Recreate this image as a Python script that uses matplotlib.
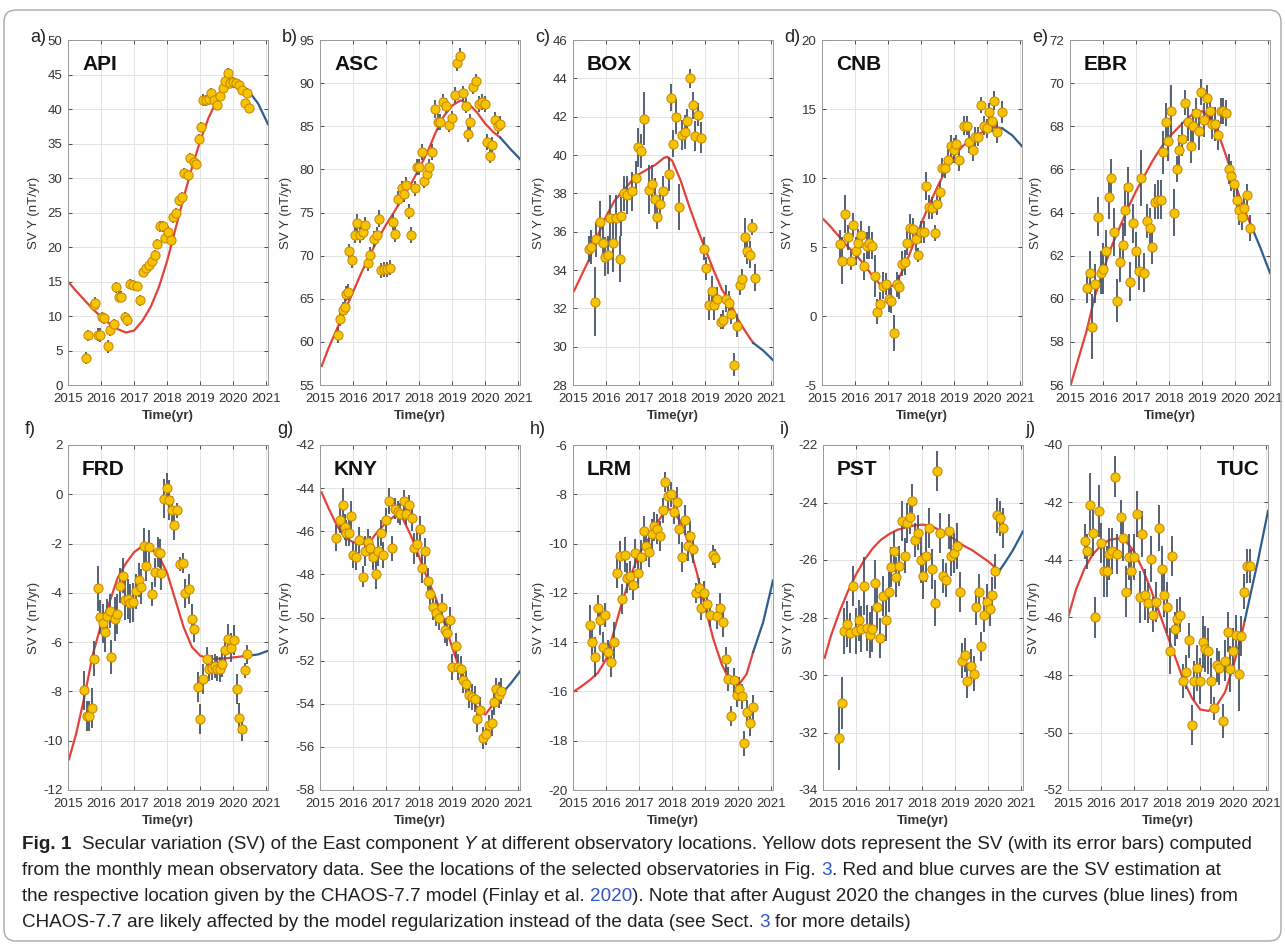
import numpy as np
import matplotlib
matplotlib.use('Agg')
import matplotlib.pyplot as plt
from matplotlib import font_manager
from matplotlib.patches import FancyBboxPatch

plt.rcParams['font.family'] = ['Liberation Sans', 'DejaVu Sans']
plt.rcParams['axes.unicode_minus'] = False

# ---------------- data ----------------
# a) API
api_t = [2015.55, 2015.62, 2015.78, 2015.83, 2015.9, 2015.96, 2016.02, 2016.1, 2016.2, 2016.28,
         2016.38, 2016.46, 2016.53, 2016.6, 2016.71, 2016.78, 2016.88, 2016.98, 2017.08, 2017.18,
         2017.27, 2017.35, 2017.45, 2017.54, 2017.62, 2017.7, 2017.79, 2017.87, 2017.94, 2018.04,
         2018.12, 2018.19, 2018.27, 2018.35, 2018.44, 2018.52, 2018.62, 2018.7, 2018.8, 2018.88,
         2018.95, 2019.02, 2019.08, 2019.18, 2019.26, 2019.33, 2019.43, 2019.51, 2019.61, 2019.68,
         2019.76, 2019.83, 2019.91, 2020.0, 2020.08, 2020.17, 2020.27, 2020.34, 2020.42, 2020.49]
api_sv = [3.9, 7.2, 11.6, 11.9, 7.3, 7.2, 9.8, 9.7, 5.6, 8.0,
          8.8, 14.2, 12.8, 12.8, 9.8, 9.4, 14.7, 14.5, 14.3, 12.3,
          16.4, 16.9, 17.4, 17.9, 18.8, 20.5, 23.0, 23.0, 21.3, 22.2,
          21.0, 24.3, 24.9, 26.8, 27.3, 30.7, 30.4, 32.9, 32.3, 32.1,
          35.7, 37.4, 41.3, 41.3, 41.5, 42.3, 41.3, 40.6, 41.9, 43.0,
          44.1, 45.2, 43.7, 43.9, 43.7, 43.5, 42.8, 40.8, 42.3, 40.1]
api_err = [0.9, 0.8, 0.8, 0.8, 0.9, 1.0, 0.8, 0.8, 0.9, 0.9,
           0.8, 0.8, 0.8, 0.8, 0.8, 0.8, 0.7, 0.7, 0.7, 0.8,
           0.7, 0.7, 0.7, 0.7, 0.7, 0.7, 0.8, 0.8, 0.7, 0.8,
           0.8, 0.8, 0.8, 0.8, 0.7, 0.7, 0.8, 0.7, 0.8, 0.7,
           0.7, 0.7, 0.9, 0.8, 0.8, 0.8, 0.7, 0.8, 0.8, 0.8,
           0.8, 0.8, 0.7, 0.7, 0.7, 0.7, 0.7, 0.7, 0.7, 0.7]
api_mt = [2015.0, 2015.25, 2015.5, 2015.75, 2016.0, 2016.25, 2016.5, 2016.75, 2017.0, 2017.25,
          2017.5, 2017.75, 2018.0, 2018.25, 2018.5, 2018.75, 2019.0, 2019.25, 2019.5, 2019.75,
          2020.0, 2020.25, 2020.45, 2020.75, 2021.05]
api_mod = [15.0, 13.6, 12.3, 11.0, 9.9, 8.9, 8.1, 7.6, 7.9, 9.3,
           11.3, 14.2, 18.0, 22.6, 27.2, 31.5, 35.4, 38.7, 41.2, 42.8,
           43.5, 43.4, 42.7, 40.8, 37.8]

# b) ASC
asc_t = [2015.55, 2015.62, 2015.7, 2015.75, 2015.8, 2015.85, 2015.88, 2015.97,
         2016.05, 2016.12, 2016.2, 2016.3, 2016.37, 2016.44, 2016.52, 2016.62, 2016.71, 2016.79, 2016.86, 2016.94,
         2017.02, 2017.12, 2017.2, 2017.27, 2017.37, 2017.47, 2017.54, 2017.6, 2017.68, 2017.76, 2017.86, 2017.94,
         2018.0, 2018.08, 2018.16, 2018.23, 2018.31, 2018.4, 2018.48, 2018.56, 2018.63, 2018.71, 2018.8, 2018.9, 2018.98,
         2019.08, 2019.13, 2019.23, 2019.33, 2019.41, 2019.48, 2019.55, 2019.63, 2019.73, 2019.81, 2019.9, 2019.98,
         2020.05, 2020.13, 2020.21, 2020.28, 2020.38, 2020.46]
asc_sv = [60.8, 62.7, 63.7, 64.1, 65.6, 65.8, 70.5, 69.5,
          72.4, 73.8, 72.4, 72.7, 73.6, 69.1, 70.1, 71.9, 72.4, 74.3, 68.3, 68.4,
          68.4, 68.6, 73.9, 72.5, 76.6, 77.8, 77.2, 78.2, 75.1, 72.4, 77.8, 80.3,
          80.3, 82.0, 78.7, 79.5, 80.3, 82.0, 87.0, 85.5, 85.5, 87.8, 87.4, 85.2, 85.9,
          88.6, 92.3, 93.2, 88.8, 87.4, 84.1, 85.5, 89.6, 90.2, 87.6, 87.8, 87.6,
          83.2, 81.6, 82.8, 85.7, 85.0, 85.3]
asc_err = [0.9, 0.9, 0.9, 0.9, 0.9, 0.9, 0.9, 0.9,
           0.9, 1.0, 0.9, 0.9, 0.9, 0.9, 0.9, 0.9, 0.9, 1.0, 0.9, 0.9,
           0.9, 0.9, 0.9, 0.9, 0.9, 0.9, 1.0, 0.9, 0.9, 0.9, 0.9, 0.9,
           0.9, 0.9, 0.9, 0.9, 0.9, 0.9, 1.0, 0.9, 0.9, 0.9, 0.9, 0.9, 0.9,
           0.9, 0.9, 0.9, 0.9, 0.9, 0.9, 0.9, 0.9, 0.9, 0.9, 0.9, 0.9,
           0.9, 0.9, 0.9, 0.9, 0.9, 0.9]
asc_mt = [2015.05, 2015.25, 2015.5, 2015.75, 2016.0, 2016.25, 2016.5, 2016.75, 2017.0, 2017.25,
          2017.5, 2017.75, 2018.0, 2018.25, 2018.5, 2018.75, 2019.0, 2019.25, 2019.5, 2019.75,
          2020.0, 2020.25, 2020.45, 2020.75, 2021.05]
asc_mod = [57.2, 59.2, 61.4, 63.6, 65.8, 68.0, 70.0, 71.9, 73.6, 75.1,
           76.7, 78.3, 80.1, 82.0, 84.3, 86.2, 87.4, 88.0, 87.6, 86.6,
           85.3, 84.3, 83.7, 82.4, 81.2]

# c) BOX
box_t = [2015.48, 2015.55, 2015.66, 2015.71, 2015.81, 2015.91, 2015.96,
         2016.06, 2016.13, 2016.21, 2016.29, 2016.41, 2016.46, 2016.54, 2016.63, 2016.79, 2016.9, 2016.97,
         2017.05, 2017.14, 2017.29, 2017.39, 2017.47, 2017.55, 2017.64, 2017.72, 2017.89, 2017.97,
         2018.04, 2018.12, 2018.2, 2018.3, 2018.38, 2018.46, 2018.53, 2018.63, 2018.7, 2018.78, 2018.88, 2018.96,
         2019.03, 2019.11, 2019.2, 2019.28, 2019.36, 2019.47, 2019.53, 2019.62, 2019.71, 2019.79, 2019.87, 2019.96,
         2020.04, 2020.12, 2020.19, 2020.26, 2020.34, 2020.42, 2020.52]
box_sv = [35.1, 35.2, 32.35, 35.6, 36.5, 35.4, 34.7,
          34.8, 36.7, 35.4, 36.7, 34.55, 36.8, 38.0, 37.9, 38.1, 38.8, 40.4,
          40.2, 41.9, 38.2, 38.5, 37.7, 36.75, 37.45, 38.1, 39.0, 43.0,
          40.6, 42.0, 37.3, 41.05, 41.2, 41.8, 44.0, 42.6, 41.0, 42.1, 40.9, 35.1,
          34.1, 32.2, 32.9, 32.2, 32.5, 31.3, 31.4, 32.5, 32.3, 31.7, 29.05, 31.1,
          33.2, 33.55, 35.7, 35.0, 34.8, 36.25, 33.6]
box_err = [0.7, 0.9, 1.8, 0.9, 1.1, 1.0, 1.0,
           1.0, 1.2, 1.5, 1.2, 1.2, 1.0, 0.9, 1.0, 1.0, 0.9, 1.0,
           0.9, 1.4, 1.3, 1.0, 1.1, 0.6, 0.7, 0.8, 0.9, 0.7,
           0.7, 0.9, 1.2, 0.8, 0.9, 0.6, 0.5, 0.7, 0.8, 0.6, 0.8, 0.6,
           0.6, 0.8, 0.8, 0.8, 0.6, 0.4, 0.5, 0.7, 0.6, 0.5, 0.6, 0.6,
           0.5, 0.5, 1.0, 0.7, 0.7, 0.4, 0.7]
box_mt = [2015.03, 2015.25, 2015.5, 2015.75, 2016.0, 2016.25, 2016.5, 2016.75, 2017.0, 2017.25,
          2017.5, 2017.75, 2017.85, 2018.0, 2018.25, 2018.5, 2018.75, 2019.0, 2019.25, 2019.5,
          2019.75, 2020.0, 2020.25, 2020.45, 2020.75, 2021.05]
box_mod = [32.9, 33.7, 34.6, 35.8, 36.8, 37.6, 38.1, 38.6, 39.0, 39.25,
           39.5, 39.85, 39.9, 39.7, 38.7, 37.4, 36.2, 35.1, 34.0, 33.0,
           32.3, 31.4, 30.7, 30.2, 29.8, 29.3]

# d) CNB
cnb_t = [2015.53, 2015.6, 2015.7, 2015.78, 2015.88, 2015.95,
         2016.03, 2016.1, 2016.18, 2016.28, 2016.35, 2016.43, 2016.52, 2016.6, 2016.67, 2016.75, 2016.85, 2016.94,
         2017.03, 2017.1, 2017.18, 2017.28, 2017.33, 2017.41, 2017.51, 2017.58, 2017.66, 2017.74, 2017.83, 2017.91, 2017.99,
         2018.09, 2018.16, 2018.23, 2018.33, 2018.41, 2018.49, 2018.57, 2018.64, 2018.73, 2018.81, 2018.91, 2018.98,
         2019.06, 2019.14, 2019.29, 2019.38, 2019.46, 2019.56, 2019.64, 2019.73, 2019.81, 2019.89, 2019.98,
         2020.06, 2020.13, 2020.21, 2020.3, 2020.45]
cnb_sv = [5.2, 4.0, 7.4, 5.7, 4.0, 6.6,
          4.7, 5.3, 5.9, 3.6, 5.1, 5.3, 5.1, 2.9, 0.3, 0.85, 2.2, 2.3,
          1.2, 1.1, -1.2, 2.3, 2.1, 3.8, 3.9, 5.3, 6.4, 6.3, 5.6, 4.4, 6.1,
          6.1, 9.4, 7.9, 7.8, 6.0, 8.1, 9.0, 10.75, 10.7, 11.3, 12.3, 12.0,
          12.45, 11.3, 13.8, 13.8, 12.6, 12.0, 13.0, 13.0, 15.3, 13.8, 13.6,
          14.8, 14.1, 15.6, 13.35, 14.8]
cnb_err = [1.0, 1.7, 1.4, 0.9, 0.7, 0.9,
           1.0, 1.0, 1.0, 1.0, 1.0, 1.2, 1.0, 1.5, 0.9, 0.9, 1.0, 0.8,
           0.9, 0.9, 1.3, 0.9, 0.9, 0.9, 0.9, 0.9, 1.0, 0.8, 0.9, 0.5, 0.8,
           0.8, 1.0, 0.9, 0.8, 0.6, 0.8, 0.8, 0.7, 0.7, 0.8, 0.8, 0.9,
           0.7, 0.8, 0.7, 0.7, 0.8, 0.8, 0.7, 0.7, 0.6, 0.7, 0.7,
           0.6, 0.8, 0.7, 0.8, 0.8]
cnb_mt = [2015.05, 2015.25, 2015.5, 2015.75, 2016.0, 2016.25, 2016.5, 2016.75, 2017.0, 2017.25,
          2017.5, 2017.75, 2018.0, 2018.25, 2018.5, 2018.75, 2019.0, 2019.25, 2019.5, 2019.75,
          2020.0, 2020.25, 2020.45, 2020.75, 2021.05]
cnb_mod = [7.0, 6.5, 5.8, 5.1, 4.5, 3.8, 3.0, 2.3, 2.0, 2.4,
           3.6, 5.1, 6.7, 8.1, 9.4, 10.6, 11.6, 12.3, 12.8, 13.2,
           13.5, 13.7, 13.6, 13.1, 12.3]

# e) EBR
ebr_t = [2015.5, 2015.6, 2015.68, 2015.76, 2015.85, 2015.93,
         2016.01, 2016.08, 2016.18, 2016.25, 2016.33, 2016.43, 2016.51, 2016.6, 2016.65, 2016.75, 2016.83, 2016.92,
         2017.01, 2017.09, 2017.16, 2017.24, 2017.32, 2017.41, 2017.49, 2017.57, 2017.66, 2017.74, 2017.82, 2017.89, 2017.97,
         2018.06, 2018.15, 2018.23, 2018.31, 2018.4, 2018.48, 2018.57, 2018.65, 2018.73, 2018.82, 2018.9, 2018.97,
         2019.05, 2019.13, 2019.22, 2019.3, 2019.38, 2019.47, 2019.56, 2019.64, 2019.73, 2019.81, 2019.88, 2019.96,
         2020.04, 2020.11, 2020.19, 2020.26, 2020.34, 2020.44]
ebr_sv = [60.5, 61.2, 58.7, 60.7, 63.8, 61.2,
          61.4, 62.2, 64.7, 65.6, 63.1, 59.9, 61.7, 62.5, 64.1, 65.2, 60.8, 63.5,
          62.2, 61.3, 65.6, 61.2, 63.6, 63.3, 62.4, 64.5, 64.6, 64.6, 66.8, 68.2, 67.3,
          68.7, 64.0, 66.0, 66.9, 67.4, 69.1, 68.2, 67.1, 68.0, 68.6, 67.8, 69.6,
          68.3, 69.3, 68.7, 68.1, 68.1, 67.6, 68.7, 68.7, 68.6, 66.0, 65.7, 65.3,
          64.6, 64.1, 63.8, 64.2, 64.8, 63.3]
ebr_err = [0.7, 1.0, 1.5, 0.9, 0.9, 1.0,
           1.2, 1.0, 1.0, 0.9, 1.1, 1.0, 0.9, 1.0, 1.2, 0.9, 0.9, 0.9,
           0.9, 0.9, 1.3, 0.9, 0.8, 0.9, 0.8, 0.8, 0.9, 0.9, 1.0, 0.9, 0.9,
           1.2, 1.1, 0.6, 0.7, 0.8, 0.6, 0.9, 0.8, 0.8, 0.7, 0.9, 0.6,
           0.8, 0.6, 0.7, 0.7, 0.8, 0.7, 0.6, 0.6, 0.6, 0.7, 0.7, 0.6,
           0.6, 0.7, 0.6, 0.6, 0.5, 0.6]
ebr_mt = [2015.02, 2015.25, 2015.5, 2015.75, 2016.0, 2016.25, 2016.5, 2016.75, 2017.0, 2017.25,
          2017.5, 2017.75, 2018.0, 2018.25, 2018.5, 2018.75, 2019.0, 2019.25, 2019.5, 2019.75,
          2020.0, 2020.25, 2020.45, 2020.75, 2021.05]
ebr_mod = [56.0, 57.2, 58.5, 60.1, 61.3, 62.4, 63.3, 64.2, 65.0, 65.7,
           66.4, 67.0, 67.5, 67.9, 68.3, 68.6, 68.7, 68.4, 67.6, 66.5,
           65.3, 64.2, 63.5, 62.4, 61.2]

# f) FRD
frd_t = [2015.48, 2015.58, 2015.65, 2015.73, 2015.8, 2015.9, 2015.97,
         2016.06, 2016.11, 2016.19, 2016.28, 2016.31, 2016.41, 2016.48, 2016.56, 2016.66, 2016.73, 2016.81, 2016.89, 2016.98,
         2017.06, 2017.14, 2017.21, 2017.29, 2017.37, 2017.46, 2017.54, 2017.63, 2017.71, 2017.78, 2017.81, 2017.91, 2017.98,
         2018.06, 2018.15, 2018.22, 2018.3, 2018.39, 2018.47, 2018.55, 2018.65, 2018.74, 2018.82, 2018.93,
         2019.0, 2019.09, 2019.2, 2019.27, 2019.35, 2019.45, 2019.52, 2019.6, 2019.67, 2019.75, 2019.84, 2019.92,
         2020.02, 2020.1, 2020.18, 2020.26, 2020.35, 2020.41]
frd_sv = [-7.96, -9.0, -9.0, -8.67, -6.67, -3.82, -4.97,
          -5.24, -5.6, -4.93, -4.73, -6.6, -5.07, -4.86, -3.71, -3.3, -4.29, -4.25, -4.43, -4.39,
          -3.94, -3.48, -3.75, -2.08, -2.92, -2.15, -4.05, -3.17, -2.35, -2.4, -3.2, -0.18, 0.26,
          -0.24, -0.65, -1.24, -0.65, -2.83, -2.8, -4.02, -3.85, -5.07, -5.48, -7.83,
          -9.12, -7.49, -6.7, -7.08, -7.04, -6.97, -7.07, -7.1, -6.9, -6.33, -5.88, -6.22,
          -5.92, -7.9, -9.08, -9.52, -7.15, -6.5]
frd_err = [0.8, 0.6, 0.6, 0.8, 0.7, 0.9, 0.7,
           0.8, 0.8, 0.7, 0.7, 0.7, 0.9, 0.8, 0.7, 0.7, 0.8, 0.8, 0.8, 0.8,
           0.7, 0.7, 0.7, 0.7, 0.6, 0.7, 0.5, 0.6, 0.6, 0.6, 0.7, 0.8, 0.6,
           0.8, 0.6, 0.6, 0.3, 0.3, 0.4, 0.6, 0.6, 0.6, 0.5, 0.6,
           0.6, 0.6, 0.5, 0.5, 0.5, 0.5, 0.5, 0.5, 0.5, 0.5, 0.6, 0.6,
           0.6, 0.6, 0.6, 0.5, 0.3, 0.4]
frd_mt = [2015.03, 2015.25, 2015.5, 2015.75, 2016.0, 2016.25, 2016.5, 2016.75, 2017.0, 2017.25,
          2017.5, 2017.75, 2018.0, 2018.25, 2018.5, 2018.75, 2019.0, 2019.25, 2019.5, 2019.75,
          2020.0, 2020.25, 2020.45, 2020.75, 2021.05]
frd_mod = [-10.75, -9.7, -8.2, -6.5, -5.3, -4.4, -3.4, -2.8, -2.35, -2.1,
           -2.2, -2.5, -3.2, -4.3, -5.4, -6.2, -6.55, -6.67, -6.68, -6.66,
           -6.62, -6.58, -6.55, -6.5, -6.35]

# g) KNY
kny_t = [2015.49, 2015.59, 2015.69, 2015.76, 2015.8, 2015.88, 2015.94,
         2016.01, 2016.09, 2016.19, 2016.29, 2016.35, 2016.44, 2016.52, 2016.6, 2016.69, 2016.75, 2016.84, 2016.92,
         2017.0, 2017.1, 2017.18, 2017.26, 2017.35, 2017.43, 2017.53, 2017.6, 2017.68, 2017.77, 2017.84, 2017.92,
         2018.01, 2018.09, 2018.17, 2018.26, 2018.34, 2018.42, 2018.52, 2018.6, 2018.68, 2018.77, 2018.85, 2018.93,
         2019.0, 2019.1, 2019.18, 2019.28, 2019.34, 2019.43, 2019.51, 2019.59, 2019.68, 2019.76, 2019.84, 2019.93,
         2020.02, 2020.1, 2020.19, 2020.25, 2020.32, 2020.42, 2020.49]
kny_sv = [-46.3, -45.5, -44.8, -45.8, -46.1, -46.1, -45.3,
          -47.1, -47.2, -46.4, -48.1, -46.9, -46.5, -46.8, -47.2, -48.0, -46.9, -46.1, -47.1,
          -45.5, -44.6, -46.8, -44.95, -45.1, -45.2, -44.6, -45.2, -44.8, -45.4, -46.8, -46.6,
          -45.9, -47.7, -46.9, -48.3, -48.9, -49.5, -49.8, -50.0, -49.5, -50.6, -50.7, -50.1,
          -52.3, -51.3, -52.3, -52.4, -52.9, -53.1, -53.6, -53.7, -53.8, -54.7, -54.3, -55.6,
          -55.4, -55.0, -54.9, -53.9, -53.3, -53.6, -53.4]
kny_err = [0.6, 0.6, 0.8, 0.6, 0.6, 0.6, 0.7,
           0.6, 0.6, 0.6, 0.5, 0.7, 0.6, 0.6, 0.6, 0.7, 0.7, 0.6, 0.6,
           0.6, 0.6, 0.6, 0.5, 0.5, 0.5, 0.5, 0.5, 0.5, 0.6, 0.7, 0.6,
           0.6, 0.7, 0.6, 0.6, 0.6, 0.6, 0.6, 0.6, 0.6, 0.6, 0.6, 0.6,
           0.6, 0.6, 0.6, 0.6, 0.6, 0.6, 0.6, 0.6, 0.6, 0.6, 0.6, 0.5,
           0.5, 0.5, 0.6, 0.6, 0.5, 0.6, 0.6]
kny_mt = [2015.05, 2015.25, 2015.5, 2015.75, 2016.0, 2016.25, 2016.5, 2016.75, 2017.0, 2017.25,
          2017.5, 2017.75, 2018.0, 2018.25, 2018.5, 2018.75, 2019.0, 2019.25, 2019.5, 2019.75,
          2020.0, 2020.25, 2020.45, 2020.75, 2021.05]
kny_mod = [-44.2, -44.9, -45.7, -46.3, -46.5, -46.6, -46.5, -46.0, -45.6, -45.3,
           -45.4, -46.2, -47.2, -48.2, -49.1, -50.2, -51.4, -52.5, -53.4, -54.2,
           -54.5, -54.0, -53.6, -53.1, -52.5]

# h) LRM
lrm_t = [2015.5, 2015.58, 2015.67, 2015.75, 2015.83, 2015.9, 2015.98,
         2016.06, 2016.16, 2016.24, 2016.33, 2016.41, 2016.49, 2016.58, 2016.64, 2016.73, 2016.81, 2016.89, 2016.98,
         2017.06, 2017.14, 2017.21, 2017.29, 2017.38, 2017.46, 2017.54, 2017.63, 2017.71, 2017.79, 2017.88, 2017.96,
         2018.05, 2018.14, 2018.22, 2018.3, 2018.39, 2018.47, 2018.55, 2018.64, 2018.72, 2018.8, 2018.87, 2018.97,
         2019.05, 2019.13, 2019.22, 2019.3, 2019.37, 2019.45, 2019.54, 2019.62, 2019.7, 2019.79, 2019.87, 2019.95,
         2020.03, 2020.11, 2020.18, 2020.26, 2020.35, 2020.43]
lrm_sv = [-13.3, -14.0, -14.6, -12.6, -13.1, -14.2, -12.9,
          -14.4, -14.8, -14.0, -11.2, -10.5, -12.25, -10.45, -11.4, -11.3, -11.7, -10.4, -11.2,
          -10.55, -9.5, -10.1, -10.35, -9.6, -9.3, -9.4, -9.7, -8.65, -7.5, -8.05, -8.0,
          -8.7, -8.3, -9.4, -10.55, -9.05, -10.1, -9.7, -10.2, -12.0, -11.8, -12.6, -12.0,
          -12.45, -12.9, -10.45, -10.6, -12.95, -12.6, -13.2, -14.7, -15.5, -17.0, -15.55, -16.15,
          -15.9, -16.2, -18.1, -16.85, -17.3, -16.65]
lrm_err = [0.8, 0.6, 0.8, 0.5, 0.6, 0.6, 0.5,
           0.5, 0.6, 0.8, 0.6, 0.6, 0.6, 0.7, 0.6, 0.6, 0.6, 0.6, 0.6,
           0.7, 0.6, 0.6, 0.6, 0.6, 0.6, 0.6, 0.6, 0.5, 0.4, 0.5, 0.5,
           0.5, 0.6, 0.6, 0.6, 0.6, 0.6, 0.6, 0.6, 0.4, 0.4, 0.5, 0.5,
           0.5, 0.5, 0.4, 0.4, 0.5, 0.6, 0.6, 0.5, 0.5, 0.4, 0.5, 0.5,
           0.5, 0.5, 0.5, 0.5, 0.5, 0.5]
lrm_mt = [2015.03, 2015.25, 2015.5, 2015.75, 2016.0, 2016.25, 2016.5, 2016.75, 2017.0, 2017.25,
          2017.5, 2017.75, 2017.9, 2018.0, 2018.25, 2018.5, 2018.75, 2019.0, 2019.25, 2019.5,
          2019.75, 2020.0, 2020.25, 2020.45, 2020.75, 2021.05]
lrm_mod = [-16.0, -15.8, -15.55, -15.25, -14.7, -13.5, -12.3, -11.3, -10.4, -9.9,
           -9.25, -8.75, -8.6, -8.65, -9.1, -10.0, -11.2, -12.6, -13.9, -14.9,
           -15.6, -15.75, -15.3, -14.4, -13.2, -11.5]

# i) PST
pst_t = [2015.48, 2015.58, 2015.65, 2015.74, 2015.81, 2015.91, 2015.99,
         2016.08, 2016.16, 2016.24, 2016.33, 2016.41, 2016.49, 2016.58, 2016.64, 2016.73, 2016.81, 2016.9, 2016.99,
         2017.05, 2017.14, 2017.22, 2017.3, 2017.39, 2017.47, 2017.55, 2017.62, 2017.7, 2017.79, 2017.87, 2017.95,
         2018.04, 2018.13, 2018.21, 2018.3, 2018.38, 2018.46, 2018.55, 2018.63, 2018.71, 2018.8, 2018.88, 2018.96,
         2019.05, 2019.13, 2019.21, 2019.3, 2019.37, 2019.47, 2019.56, 2019.62, 2019.71, 2019.79, 2019.87, 2019.96,
         2020.04, 2020.12, 2020.19, 2020.27, 2020.36, 2020.44]
pst_sv = [-32.2, -30.97, -28.46, -28.23, -28.55, -26.9, -28.46,
          -28.1, -28.4, -26.9, -28.37, -28.6, -28.4, -26.8, -27.65, -28.7, -27.25, -28.1, -27.1,
          -26.25, -25.7, -26.6, -26.2, -24.65, -25.85, -24.7, -24.5, -23.95, -25.3, -25.05, -26.0,
          -26.55, -25.85, -24.9, -26.3, -27.5, -22.9, -25.05, -26.55, -26.7, -25.0, -25.85, -25.75,
          -25.5, -27.1, -29.5, -29.3, -30.2, -29.7, -29.95, -27.65, -27.1, -29.0, -27.9, -27.45,
          -27.7, -27.2, -26.4, -24.45, -24.55, -24.9]
pst_err = [1.1, 0.9, 0.8, 0.8, 0.7, 0.7, 0.8,
           0.7, 0.8, 1.0, 0.8, 0.8, 0.8, 0.8, 0.8, 0.7, 0.7, 0.7, 0.7,
           0.7, 0.7, 0.7, 0.7, 0.7, 0.6, 0.7, 0.6, 0.6, 0.6, 0.6, 0.8,
           0.8, 0.9, 0.7, 0.7, 0.8, 0.7, 0.7, 0.6, 0.6, 0.6, 0.7, 0.7,
           0.8, 0.7, 0.6, 0.6, 0.6, 0.6, 0.6, 0.6, 0.6, 0.5, 0.6, 0.6,
           0.6, 0.6, 0.6, 0.6, 0.6, 0.7]
pst_mt = [2015.05, 2015.25, 2015.5, 2015.75, 2016.0, 2016.25, 2016.5, 2016.75, 2017.0, 2017.25,
          2017.5, 2017.75, 2018.0, 2018.25, 2018.5, 2018.75, 2019.0, 2019.25, 2019.5, 2019.75,
          2020.0, 2020.25, 2020.35, 2020.5, 2020.75, 2021.05]
pst_mod = [-29.4, -28.6, -27.8, -27.1, -26.5, -26.0, -25.6, -25.3, -25.1, -24.95,
           -24.87, -24.8, -24.77, -24.8, -24.95, -25.1, -25.3, -25.5, -25.65, -25.85,
           -26.05, -26.3, -26.35, -26.1, -25.65, -25.0]

# j) TUC
tuc_t = [2015.51, 2015.58, 2015.68, 2015.75, 2015.83, 2015.93,
         2016.01, 2016.08, 2016.17, 2016.24, 2016.32, 2016.41, 2016.49, 2016.59, 2016.67, 2016.76, 2016.84, 2016.91, 2016.99,
         2017.1, 2017.17, 2017.25, 2017.33, 2017.42, 2017.5, 2017.58, 2017.65, 2017.76, 2017.84, 2017.91, 2017.99,
         2018.08, 2018.16, 2018.23, 2018.31, 2018.39, 2018.48, 2018.57, 2018.65, 2018.74, 2018.82, 2018.9, 2018.99,
         2019.07, 2019.15, 2019.25, 2019.33, 2019.41, 2019.5, 2019.58, 2019.68, 2019.76, 2019.83, 2019.91,
         2020.0, 2020.08, 2020.17, 2020.24, 2020.32, 2020.41, 2020.51]
tuc_sv = [-43.35, -43.7, -42.07, -43.06, -46.0, -42.3,
          -43.4, -44.4, -44.4, -43.8, -43.7, -41.1, -43.8, -42.5, -43.25, -45.1, -43.9, -44.4, -43.9,
          -42.4, -45.3, -43.1, -45.2, -45.5, -43.95, -45.9, -45.45, -42.9, -44.3, -45.2, -45.65,
          -47.15, -43.85, -46.4, -46.05, -45.9, -48.2, -47.9, -46.8, -49.75, -48.2, -47.75, -48.2,
          -46.85, -47.1, -47.15, -48.2, -49.15, -47.65, -47.75, -49.6, -47.5, -46.5, -47.8,
          -47.15, -46.6, -47.95, -46.65, -45.1, -44.2, -44.2]
tuc_err = [0.6, 0.6, 1.1, 0.8, 0.7, 0.9,
           0.7, 0.9, 0.9, 0.9, 0.8, 0.7, 0.7, 0.6, 0.8, 0.9, 0.8, 0.8, 0.8,
           0.8, 0.9, 0.8, 0.9, 0.7, 0.8, 0.6, 0.7, 0.8, 0.8, 0.8, 0.9,
           0.8, 0.7, 0.6, 0.7, 0.6, 0.6, 0.6, 0.6, 0.7, 0.7, 0.8, 0.8,
           0.9, 0.8, 0.8, 0.8, 0.4, 0.6, 0.6, 0.6, 0.7, 0.7, 0.8,
           0.8, 0.7, 1.3, 0.7, 0.6, 0.6, 0.6]
tuc_mt = [2015.0, 2015.25, 2015.5, 2015.75, 2016.0, 2016.25, 2016.5, 2016.75, 2017.0, 2017.25,
          2017.5, 2017.75, 2018.0, 2018.25, 2018.5, 2018.75, 2019.0, 2019.25, 2019.5, 2019.75,
          2020.0, 2020.25, 2020.35, 2020.5, 2020.75, 2021.05]
tuc_mod = [-46.0, -45.0, -44.3, -43.8, -43.5, -43.3, -43.25, -43.35, -43.7, -44.3,
           -45.0, -45.8, -46.6, -47.4, -48.2, -48.8, -49.2, -49.25, -49.05, -48.6,
           -47.7, -46.6, -46.1, -45.3, -44.0, -42.3]

letters = ['a)', 'b)', 'c)', 'd)', 'e)', 'f)', 'g)', 'h)', 'i)', 'j)']
names = ['API', 'ASC', 'BOX', 'CNB', 'EBR', 'FRD', 'KNY', 'LRM', 'PST', 'TUC']
y_ranges = [(0, 50, 5), (55, 95, 5), (28, 46, 2), (-5, 20, 5), (56, 72, 2),
            (-12, 2, 2), (-58, -42, 2), (-20, -6, 2), (-34, -22, 2), (-52, -40, 2)]
SWITCH_YR = 2020.45   # model regularisation starts to dominate (blue part)

panels = [
    (api_t, api_sv, api_err, api_mt, api_mod),
    (asc_t, asc_sv, asc_err, asc_mt, asc_mod),
    (box_t, box_sv, box_err, box_mt, box_mod),
    (cnb_t, cnb_sv, cnb_err, cnb_mt, cnb_mod),
    (ebr_t, ebr_sv, ebr_err, ebr_mt, ebr_mod),
    (frd_t, frd_sv, frd_err, frd_mt, frd_mod),
    (kny_t, kny_sv, kny_err, kny_mt, kny_mod),
    (lrm_t, lrm_sv, lrm_err, lrm_mt, lrm_mod),
    (pst_t, pst_sv, pst_err, pst_mt, pst_mod),
    (tuc_t, tuc_sv, tuc_err, tuc_mt, tuc_mod),
]

# ---------------- figure ----------------
W, H = 1285, 944
fig = plt.figure(figsize=(W / 100, H / 100), dpi=100)

# page frame
frame = FancyBboxPatch((0.04, 0.03), 12.77, 9.31, boxstyle='round,pad=0,rounding_size=0.12',
                       transform=fig.dpi_scale_trans, fc='none', ec='#a8a8a8', lw=1.0)
fig.patches.append(frame)

lefts = [68, 320, 573, 822, 1070, 68, 320, 573, 823, 1068]
tops = [40] * 5 + [445] * 5
ax_w, ax_h = 200, 345

RED = '#e3423b'
BLUE = '#2f5d8c'
FACE = '#f4c400'
EDGE = '#c98300'
ECOL = '#46546a'

for k, (t, sv, err, mt, mod) in enumerate(panels):
    l, tp = lefts[k], tops[k]
    ax = fig.add_axes([l / W, 1 - (tp + ax_h) / H, ax_w / W, ax_h / H])
    ax.set_axisbelow(True)
    ax.grid(True, color='#e4e4e4', lw=0.7)

    mt = np.array(mt)
    mod = np.array(mod)
    n_red = int(np.sum(mt <= SWITCH_YR))
    ax.plot(mt[:n_red], mod[:n_red], color=RED, lw=1.6, zorder=2)
    ax.plot(mt[n_red - 1:], mod[n_red - 1:], color=BLUE, lw=1.6, zorder=2)

    ax.errorbar(t, sv, yerr=err, fmt='o', ms=6.6, mfc=FACE, mec=EDGE, mew=0.7,
                ecolor=ECOL, elinewidth=1.3, capsize=0, zorder=3)

    lo, hi, step = y_ranges[k]
    ax.set_ylim(lo, hi)
    ax.set_yticks(np.arange(lo, hi + step / 2, step))
    ax.set_xlim(2015, 2021.05)
    ax.set_xticks(range(2015, 2022))
    ax.tick_params(direction='in', length=3, width=0.6, colors='#333333',
                   labelsize=9.5, top=True, right=True)
    ax.tick_params(axis='x', pad=6)
    ax.tick_params(axis='y', pad=4)
    for sp in ax.spines.values():
        sp.set_color('#9a9a9a')
        sp.set_linewidth(0.7)

    ax.set_ylabel('SV Y (nT/yr)', fontsize=9.5, color='#333333')
    ax.yaxis.set_label_coords(-0.14, 0.5)
    ax.set_xlabel('Time(yr)', fontsize=9.5, fontweight='bold', color='#333333')
    ax.xaxis.set_label_coords(0.5, -0.072)

    if names[k] == 'TUC':
        ax.text(0.96, 0.93, names[k], transform=ax.transAxes, ha='right', va='center',
                fontsize=15, fontweight='bold', color='#111111')
    else:
        ax.text(0.07, 0.93, names[k], transform=ax.transAxes, ha='left', va='center',
                fontsize=15, fontweight='bold', color='#111111')

    # panel letter: top row beside the top tick label, bottom row a bit higher
    if k < 5:
        lx, ly = l - 38, tp - 2
    else:
        lx, ly = l - 43, tp - 16
    fig.text(lx / W, 1 - ly / H, letters[k], fontsize=13,
             ha='left', va='center', color='#222222')

# ---------------- caption ----------------
ttf_names = {f.name for f in font_manager.fontManager.ttflist}
cap_family = 'Liberation Sans Narrow' if 'Liberation Sans Narrow' in ttf_names else 'Liberation Sans'

caption = [
    [('Fig. 1', 'b'), ('  Secular variation (SV) of the East component ', 'n'), ('Y', 'i'),
     (' at different observatory locations. Yellow dots represent the SV (with its error bars) computed', 'n')],
    [('from the monthly mean observatory data. See the locations of the selected observatories in Fig. ', 'n'),
     ('3', 'l'), ('. Red and blue curves are the SV estimation at', 'n')],
    [('the respective location given by the CHAOS-7.7 model (Finlay et al. ', 'n'), ('2020', 'l'),
     ('). Note that after August 2020 the changes in the curves (blue lines) from', 'n')],
    [('CHAOS-7.7 are likely affected by the model regularization instead of the data (see Sect. ', 'n'),
     ('3', 'l'), (' for more details)', 'n')],
]
baselines = [849, 875, 901, 927]


def draw_caption(size):
    r = fig.canvas.get_renderer()
    probe1 = fig.text(0, 0, 'x x', fontsize=size, family=cap_family)
    probe2 = fig.text(0, 0, 'xx', fontsize=size, family=cap_family)
    sp_w = probe1.get_window_extent(r).width - probe2.get_window_extent(r).width
    probe1.remove()
    probe2.remove()
    made = []
    widths = []
    for line, yb in zip(caption, baselines):
        x = 22.0
        for txt, st in line:
            core = txt.strip(' ')
            lead = len(txt) - len(txt.lstrip(' '))
            trail = len(txt) - len(txt.rstrip(' '))
            x += lead * sp_w
            kw = dict(fontsize=size, family=cap_family, va='baseline', ha='left', color='#231f20')
            if st == 'b':
                kw['fontweight'] = 'bold'
            elif st == 'i':
                kw['style'] = 'italic'
            elif st == 'l':
                kw['color'] = '#2f55c8'
            tx = fig.text(x / W, 1 - yb / H, core, **kw)
            made.append(tx)
            x += tx.get_window_extent(r).width + trail * sp_w
        widths.append(x - 22.0)
    return made, widths[0]


texts, w1 = draw_caption(12)
for tx in texts:
    tx.remove()
draw_caption(12 * 1240.0 / w1)

fig.savefig('out.png', dpi=100)
